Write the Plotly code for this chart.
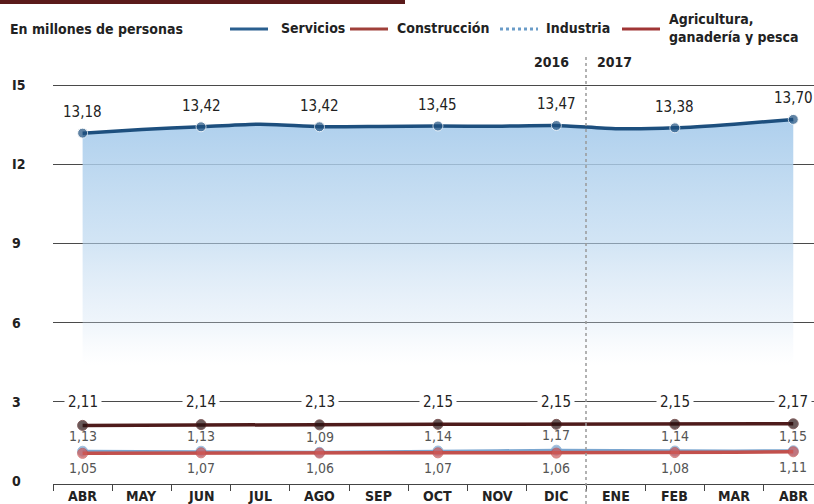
import plotly.graph_objects as go

meses = ["ABR", "MAY", "JUN", "JUL", "AGO", "SEP", "OCT", "NOV", "DIC", "ENE", "FEB", "MAR", "ABR"]
servicios = [13.18, 13.32, 13.42, 13.52, 13.42, 13.43, 13.45, 13.44, 13.47, 13.35, 13.38, 13.52, 13.70]
industria = [2.11, 2.12, 2.14, 2.14, 2.13, 2.14, 2.15, 2.15, 2.15, 2.14, 2.15, 2.16, 2.17]
agricultura = [1.13, 1.12, 1.13, 1.11, 1.09, 1.11, 1.14, 1.15, 1.17, 1.16, 1.14, 1.14, 1.15]
construccion = [1.05, 1.06, 1.07, 1.07, 1.06, 1.07, 1.07, 1.07, 1.06, 1.06, 1.08, 1.09, 1.11]
etiquetados = [0, 2, 4, 6, 8, 10, 12]
y_ticks = [0, 3, 6, 9, 12, 15]
y_tick_text = ["0", "3", "6", "9", "I2", "I5"]

FONT = "DejaVu Sans Condensed, Liberation Sans Narrow, Roboto, sans-serif"
W, H = 814, 504
L, R, T, B = 53, 0, 60, 20
PW, PH = W - L - R, H - T - B

def px2x(p):
    return (p - L) / PW

def px2y(p):
    return (H - B - p) / PH

def fmt(v):
    return f"{v:.2f}".replace(".", ",")

x = list(range(len(meses)))
msize = [10 if i in etiquetados else 0 for i in x]

fig = go.Figure()

fig.add_trace(go.Scatter(
    x=x, y=servicios, mode="lines+markers",
    line=dict(color="#1d4f7e", width=3.5, shape="spline", smoothing=0.6),
    marker=dict(size=msize, color="#1d4f7e"),
    fill="tozeroy",
    fillgradient=dict(type="vertical", start=0, stop=13.7,
                      colorscale=[[0, "rgba(220,232,246,0)"], [0.32, "rgba(220,232,246,0)"],
                                  [0.45, "rgba(205,224,243,0.35)"], [0.66, "rgba(180,211,238,0.6)"],
                                  [1, "rgba(170,205,236,0.95)"]]),
    hoverinfo="skip", showlegend=False))

fig.add_trace(go.Scatter(
    x=x, y=industria, mode="lines+markers",
    line=dict(color="#4e1b1b", width=3.5),
    marker=dict(size=msize, color="#2a1212"),
    hoverinfo="skip", showlegend=False))

fig.add_trace(go.Scatter(
    x=x, y=agricultura, mode="lines+markers",
    line=dict(color="#7aa6d0", width=3),
    marker=dict(size=msize, color="#6f9bc8"),
    hoverinfo="skip", showlegend=False))

fig.add_trace(go.Scatter(
    x=x, y=construccion, mode="lines+markers",
    line=dict(color="#c2504c", width=3.5),
    marker=dict(size=msize, color="#d05a5a"),
    hoverinfo="skip", showlegend=False))

ann = []
for i in etiquetados:
    ann.append(dict(x=i, y=servicios[i], text=fmt(servicios[i]), showarrow=False,
                    yshift=21, font=dict(family=FONT, size=15, color="#222")))
    ann.append(dict(x=i, y=3, text=fmt(industria[i]), showarrow=False,
                    bgcolor="white", borderpad=3, font=dict(family=FONT, size=15, color="#222")))
    ann.append(dict(x=i, y=agricultura[i], text=fmt(agricultura[i]), showarrow=False,
                    yshift=15, font=dict(family=FONT, size=14, color="#555")))
    ann.append(dict(x=i, y=construccion[i], text=fmt(construccion[i]), showarrow=False,
                    yshift=-15, font=dict(family=FONT, size=14, color="#555")))

for v, t in zip(y_ticks, y_tick_text):
    ann.append(dict(xref="paper", x=px2x(10), y=v, text=f"<b>{t}</b>", showarrow=False,
                    xanchor="left", yanchor="middle", font=dict(family=FONT, size=14, color="#222")))

for i, m in enumerate(meses):
    ann.append(dict(x=i, yref="paper", y=px2y(496), text=f"<b>{m}</b>", showarrow=False,
                    xanchor="center", yanchor="middle", font=dict(family=FONT, size=14, color="#222")))

def pann(px, py, txt, xanchor="left", size=14):
    return dict(xref="paper", yref="paper", x=px2x(px), y=px2y(py), text=txt, showarrow=False,
                xanchor=xanchor, yanchor="middle", align="left",
                font=dict(family=FONT, size=size, color="#222"))

ann.append(pann(8, 29, "<b>En millones de personas</b>"))
ann.append(pann(571, 62, "<b>2016</b>", xanchor="right"))
ann.append(pann(595, 62, "<b>2017</b>"))

leyenda = [
    (230, 268, "#2a5f8f", "solid", 279, "Servicios"),
    (350, 388, "#a0403a", "solid", 395, "Construcción"),
    (500, 538, "#6a9cc8", "dot", 544, "Industria"),
    (622, 660, "#a03535", "solid", 667, "Agricultura,<br>ganadería y pesca"),
]
shapes = []
for x0, x1, col, dash, tx, txt in leyenda:
    shapes.append(dict(type="line", xref="paper", yref="paper", x0=px2x(x0), x1=px2x(x1),
                       y0=px2y(29), y1=px2y(29), line=dict(color=col, width=3, dash=dash)))
    ann.append(pann(tx, 28, f"<b>{txt}</b>"))

shapes.append(dict(type="rect", xref="paper", yref="paper", x0=px2x(0), x1=px2x(405),
                   y0=px2y(4), y1=px2y(0), line=dict(width=0), fillcolor="#5a1a1a", layer="above"))
shapes.append(dict(type="line", xref="x", yref="paper", x0=8.5, x1=8.5, y0=px2y(504), y1=px2y(56),
                   line=dict(color="#999", width=1.5, dash="dot"), layer="above"))

fig.update_layout(
    width=W, height=H, autosize=False,
    margin=dict(l=L, r=R, t=T, b=B),
    plot_bgcolor="white", paper_bgcolor="white",
    annotations=ann, shapes=shapes, showlegend=False,
    xaxis=dict(range=[-0.5, 12.35], showgrid=False, zeroline=False, showline=True,
               linecolor="#444", linewidth=1, tickvals=[], showticklabels=False,
               minor=dict(ticks="outside", ticklen=6, tick0=-0.5, dtick=1, tickcolor="#444",
                          showgrid=False)),
    yaxis=dict(range=[-0.11, 15.95], tickvals=y_ticks[1:], showticklabels=False,
               showgrid=True, gridcolor="#4a4a4a", gridwidth=1, zeroline=False, showline=False),
)

fig.write_html("out.html", config={"displayModeBar": False},
               post_script="document.body.style.margin='0';document.body.style.overflow='hidden';")
